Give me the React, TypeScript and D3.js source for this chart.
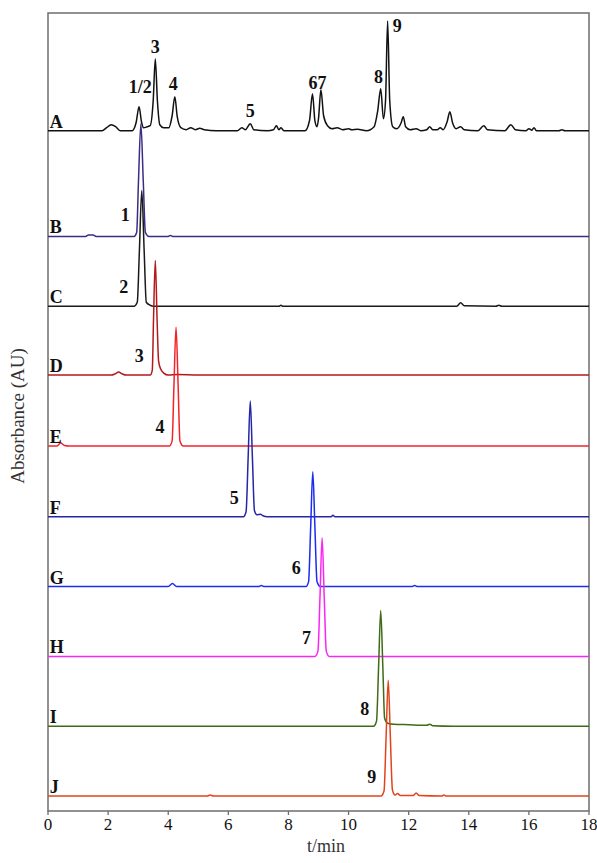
import * as d3 from 'd3';

// chromatogram traces, [time (min), absorbance above own baseline]
const traceNames = ['A', 'B', 'C', 'D', 'E', 'F', 'G', 'H', 'I', 'J'];
const traceOffsets = [682, 576, 506, 437, 366, 295, 225, 155, 85, 15];
const traceColors = ['#111111', '#3b2c86', '#1a1a1a', '#b3191c', '#f2242a', '#2626a8', '#1c2cf0', '#fb25f5', '#3f6b16', '#e2431c'];

const traceA = [
  [0, 0], [1.8, 0], [1.95, 3], [2.1, 6], [2.25, 4], [2.4, 0], [2.8, 0], [2.93, 8], [3.03, 24], [3.11, 9], [3.18, 3],
  [3.3, 4], [3.4, 5], [3.5, 30], [3.57, 72], [3.64, 30], [3.72, 6], [3.85, 3], [4.02, 3], [4.13, 15], [4.22, 34],
  [4.3, 14], [4.42, 3], [4.6, 1], [4.75, 3], [4.9, 1], [5.05, 2.5], [5.2, 1], [5.6, 0], [6.3, 0], [6.45, 3],
  [6.57, 1], [6.73, 7], [6.85, 1], [7.3, 0], [7.5, 1], [7.6, 5], [7.68, 1], [7.75, 3], [7.85, 0], [8.55, 0],
  [8.7, 10], [8.8, 37], [8.88, 10], [8.95, 4], [9.0, 12], [9.08, 41], [9.17, 15], [9.3, 5], [9.45, 2], [9.62, 3],
  [9.8, 1], [10.0, 2], [10.1, 1], [10.3, 1.5], [10.6, 0], [10.85, 4], [10.97, 20], [11.07, 42], [11.16, 12],
  [11.23, 30], [11.3, 110], [11.37, 30], [11.47, 4], [11.6, 2], [11.75, 8], [11.82, 14], [11.9, 4], [12.05, 1],
  [12.25, 2], [12.4, 0], [12.6, 1], [12.7, 4], [12.8, 1], [12.95, 1], [13.05, 3], [13.15, 1], [13.28, 9],
  [13.37, 19], [13.46, 8], [13.58, 2], [13.73, 4], [13.85, 1], [14.3, 0], [14.5, 5], [14.62, 1], [15.2, 0],
  [15.4, 6], [15.55, 1], [15.9, 0], [16.0, 2], [16.1, 0.5], [16.17, 3], [16.25, 0], [17.0, 0], [17.1, 1],
  [17.2, 0], [18, 0],
];
const traceB = [
  [0, 0], [1.25, 0], [1.35, 1.5], [1.5, 1.5], [1.6, 0], [2.86, 0], [2.95, 4], [3.01, 55], [3.09, 113],
  [3.17, 55], [3.24, 4], [3.36, 0], [4.0, 0], [4.07, 1], [4.15, 0], [18, 0],
];
const traceC = [
  [0, 0], [2.86, 0], [2.97, 4], [3.04, 55], [3.12, 116], [3.2, 55], [3.27, 4], [3.4, 1], [3.5, 0], [7.68, 0],
  [7.75, 1], [7.82, 0], [13.6, 0], [13.73, 3.5], [13.85, 0.5], [14.9, 0], [15.0, 1], [15.1, 0], [18, 0],
];
const traceD = [
  [0, 0], [2.1, 0], [2.25, 1.5], [2.35, 3], [2.45, 1.5], [2.6, 0], [3.4, 0], [3.47, 5], [3.51, 55], [3.57, 115],
  [3.63, 55], [3.68, 14], [3.75, 6], [3.85, 2], [4.0, 0], [4.3, 0.5], [5.0, 0], [18, 0],
];
const traceE = [
  [0, 0], [0.3, 0], [0.42, 3], [0.55, 0.5], [0.7, 0], [4.04, 0], [4.13, 5], [4.19, 60], [4.26, 119], [4.33, 60],
  [4.39, 5], [4.5, 0], [18, 0],
];
const traceF = [
  [0, 0], [6.5, 0], [6.59, 5], [6.66, 60], [6.73, 116], [6.8, 60], [6.87, 6], [6.95, 2], [7.07, 2.5],
  [7.15, 1], [7.3, 0], [9.42, 0], [9.48, 1.5], [9.55, 0], [18, 0],
];
const traceG = [
  [0, 0], [4.0, 0], [4.14, 3], [4.28, 0], [7.0, 0], [7.1, 1], [7.2, 0], [8.58, 0], [8.67, 5], [8.74, 60],
  [8.81, 115], [8.88, 60], [8.95, 5], [9.06, 0], [12.1, 0], [12.2, 1], [12.3, 0], [18, 0],
];
const traceH = [
  [0, 0], [8.88, 0], [8.98, 5], [9.05, 60], [9.12, 119], [9.19, 60], [9.26, 5], [9.36, 0], [18, 0],
];
const traceI = [
  [0, 0], [10.83, 0], [10.93, 5], [11.0, 60], [11.07, 116], [11.14, 60], [11.2, 8], [11.3, 3], [11.5, 2],
  [12.0, 1.5], [12.6, 1], [12.7, 2], [12.8, 0.5], [13.5, 0], [18, 0],
];
const traceJ = [
  [0, 0], [5.3, 0], [5.4, 1], [5.5, 0], [11.08, 0], [11.18, 5], [11.25, 60], [11.32, 116], [11.39, 60],
  [11.46, 6], [11.55, 1], [11.63, 2.5], [11.72, 0.5], [12.15, 0.5], [12.25, 3], [12.35, 0.5], [13.1, 0],
  [13.17, 1], [13.25, 0], [18, 0],
];
const traces = [traceA, traceB, traceC, traceD, traceE, traceF, traceG, traceH, traceI, traceJ];

// peak labels: [trace index, text, time, height above baseline]
const peakLabels: [number, string, number, number][] = [
  [0, '1/2', 3.07, 38], [0, '3', 3.57, 78], [0, '4', 4.17, 41], [0, '5', 6.73, 14], [0, '67', 8.97, 42],
  [0, '8', 11.0, 48], [0, '9', 11.62, 99],
  [1, '1', 2.57, 15], [2, '2', 2.52, 13], [3, '3', 3.04, 13], [4, '4', 3.73, 13], [5, '5', 6.2, 13],
  [6, '6', 8.26, 13], [7, '7', 8.6, 12], [8, '8', 10.54, 11], [9, '9', 10.77, 13],
];

const xTicks = [0, 2, 4, 6, 8, 10, 12, 14, 16, 18];

export default function App() {
  const width = 597;
  const height = 863;
  const margin = { top: 13, right: 8, bottom: 52, left: 48 };

  const x = d3.scaleLinear().domain([0, 18]).range([margin.left, width - margin.right]);
  const y = d3.scaleLinear().domain([0, 800]).range([height - margin.bottom, margin.top]);

  const serif = '"Liberation Serif", "Times New Roman", serif';
  const frame = '#6d6d6d';

  return (
    <svg width={width} height={height} style={{ position: 'absolute', left: 0, top: 0, background: '#fff' }}>
      <rect x={margin.left} y={margin.top} width={width - margin.left - margin.right}
        height={height - margin.top - margin.bottom} fill="none" stroke={frame} strokeWidth={1.5} />

      {traces.map((pts, i) => {
        const line = d3.line<number[]>()
          .x(d => x(d[0]))
          .y(d => y(d[1] + traceOffsets[i]))
          .curve(d3.curveMonotoneX);
        return <path key={i} d={line(pts) ?? ''} fill="none" stroke={traceColors[i]} strokeWidth={1.5} strokeLinejoin="round" />;
      })}

      {traceNames.map((name, i) => (
        <text key={name} x={x(0.06)} y={y(traceOffsets[i] + 3)} fontFamily={serif} fontWeight="bold" fontSize={18} fill="#111">{name}</text>
      ))}

      {peakLabels.map(([ti, label, t, h], k) => (
        <text key={k} x={x(t)} y={y(traceOffsets[ti] + h)} textAnchor="middle" fontFamily={serif}
          fontWeight="bold" fontSize={18} fill="#111">{label}</text>
      ))}

      {xTicks.map(t => (
        <g key={t}>
          <line x1={x(t)} x2={x(t)} y1={y(0)} y2={y(0) + 4} stroke={frame} strokeWidth={1.3} />
          <text x={x(t)} y={830} textAnchor="middle" fontFamily={serif} fontSize={17} fill="#111">{t}</text>
        </g>
      ))}

      <text x={326} y={852} textAnchor="middle" fontFamily={serif} fontSize={18} fill="#333">t/min</text>
      <text transform={`translate(24, 416) rotate(-90)`} textAnchor="middle" fontFamily={serif} fontSize={19} fill="#333">Absorbance (AU)</text>
    </svg>
  );
}
